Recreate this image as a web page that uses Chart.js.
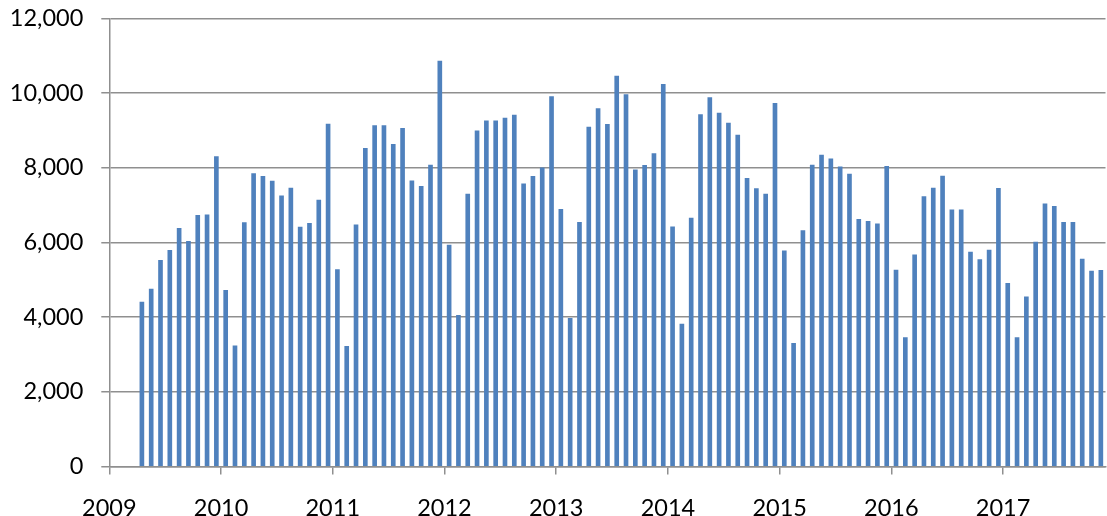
<!DOCTYPE html>
<html>
<head>
<meta charset="utf-8">
<script src="https://cdn.jsdelivr.net/npm/chart.js@4.4.1/dist/chart.umd.min.js"></script>
<style>
  html, body { margin: 0; padding: 0; background: #fff; }
  #wrap { width: 1107px; height: 516px; }
</style>
</head>
<body>
<div id="wrap"><canvas id="c" width="1107" height="516"></canvas></div>
<script>
// ---- Data ----
const months = [
  "2009-04","2009-05","2009-06","2009-07","2009-08","2009-09","2009-10","2009-11","2009-12",
  "2010-01","2010-02","2010-03","2010-04","2010-05","2010-06","2010-07","2010-08","2010-09","2010-10","2010-11","2010-12",
  "2011-01","2011-02","2011-03","2011-04","2011-05","2011-06","2011-07","2011-08","2011-09","2011-10","2011-11","2011-12",
  "2012-01","2012-02","2012-03","2012-04","2012-05","2012-06","2012-07","2012-08","2012-09","2012-10","2012-11","2012-12",
  "2013-01","2013-02","2013-03","2013-04","2013-05","2013-06","2013-07","2013-08","2013-09","2013-10","2013-11","2013-12",
  "2014-01","2014-02","2014-03","2014-04","2014-05","2014-06","2014-07","2014-08","2014-09","2014-10","2014-11","2014-12",
  "2015-01","2015-02","2015-03","2015-04","2015-05","2015-06","2015-07","2015-08","2015-09","2015-10","2015-11","2015-12",
  "2016-01","2016-02","2016-03","2016-04","2016-05","2016-06","2016-07","2016-08","2016-09","2016-10","2016-11","2016-12",
  "2017-01","2017-02","2017-03","2017-04","2017-05","2017-06","2017-07","2017-08","2017-09","2017-10","2017-11"
];
const values = [
  4400, 4750, 5520, 5790, 6380, 6030, 6725, 6740, 8300,
  4720, 3230, 6530, 7840, 7770, 7645, 7250, 7455, 6410, 6510, 7135, 9170,
  5270, 3220, 6470, 8520, 9125, 9125, 8625, 9055, 7650, 7500, 8070, 10855,
  5930, 4050, 7295, 8990, 9255, 9255, 9330, 9410, 7565, 7770, 7995, 9905,
  6885, 3970, 6540, 9090, 9580, 9160, 10455, 9955, 7940, 8065, 8375, 10230,
  6420, 3815, 6650, 9420, 9875, 9465, 9195, 8875, 7715, 7440, 7295, 9725,
  5775, 3300, 6315, 8070, 8340, 8240, 8025, 7830, 6620, 6565, 6495, 8035,
  5260, 3450, 5670, 7225, 7455, 7775, 6875, 6875, 5740, 5540, 5795, 7450,
  4905, 3450, 4540, 6010, 7035, 6965, 6540, 6540, 5555, 5235, 5250
];
const yearLabels = ["2009","2010","2011","2012","2013","2014","2015","2016","2017"];
const firstYear = 2009;
const axisEndMonths = 107; // x axis runs to start of Dec 2017 (months from Jan 2009)

// month string -> month offset from Jan 2009, centred in its month
function monthPos(m) {
  const [y, mo] = m.split("-").map(Number);
  return (y - firstYear) * 12 + (mo - 1) + 0.5;
}
const points = months.map((m, i) => ({ x: monthPos(m), y: values[i] }));

const FONT = { family: "Lato, 'Liberation Sans', sans-serif", size: 23.5 };
const GRID = "#8f8f8f";

new Chart(document.getElementById("c"), {
  type: "bar",
  data: {
    datasets: [{
      data: points,
      backgroundColor: "#4f81bd",
      borderWidth: 0,
      barThickness: 4
    }]
  },
  options: {
    responsive: false,
    animation: false,
    devicePixelRatio: 1,
    layout: { padding: { left: 0, right: 1.5, top: 18.3, bottom: 0 } },
    plugins: { legend: { display: false }, tooltip: { enabled: false } },
    scales: {
      x: {
        type: "linear",
        min: 0,
        max: axisEndMonths,
        offset: false,
        grid: {
          display: true, drawOnChartArea: false, drawTicks: true, tickLength: 8,
          lineWidth: 1.5, offset: false,
          color: (ctx) => (ctx.tick && ctx.tick.value % 12 === 0) ? GRID : "rgba(0,0,0,0)"
        },
        border: { display: true, color: GRID, width: 1.5 },
        ticks: {
          stepSize: 12,
          autoSkip: false,
          maxRotation: 0,
          padding: 20,
          color: "#000",
          font: FONT,
          callback: (v) => {
            const idx = Math.round(v / 12);
            return (v % 12 === 0 && yearLabels[idx]) ? yearLabels[idx] : "";
          }
        },
        afterFit: (s) => { s.height = 49.5; s.paddingLeft = 0; s.paddingRight = 0; }
      },
      y: {
        min: 0,
        max: 12000,
        grid: { color: GRID, lineWidth: 1.5, tickLength: 8, drawTicks: true },
        border: { display: true, color: GRID, width: 1.5 },
        ticks: {
          stepSize: 2000,
          padding: 18,
          color: "#000",
          font: FONT,
          callback: (v) => v.toLocaleString("en-US")
        },
        afterFit: (s) => { s.width = 109.3; s.paddingTop = 0; s.paddingBottom = 0; }
      }
    }
  }
});
</script>
</body>
</html>
